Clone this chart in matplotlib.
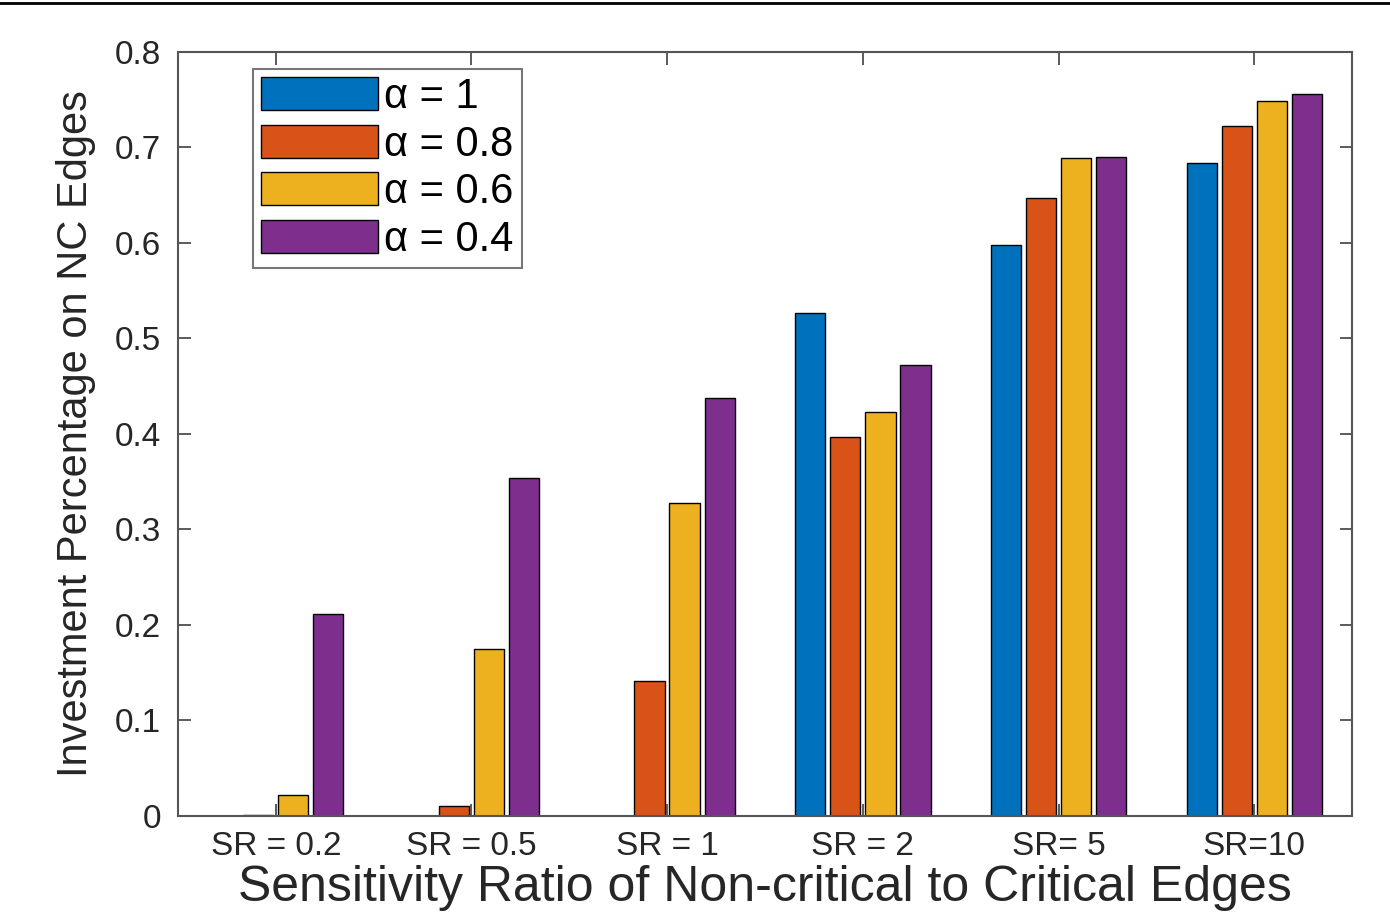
import numpy as np
import matplotlib.pyplot as plt
from matplotlib.lines import Line2D

plt.rcParams['font.family'] = ['Liberation Sans', 'DejaVu Sans']

groups = ["SR = 0.2", "SR = 0.5", "SR = 1", "SR = 2", "SR= 5", "SR=10"]
series = ["α = 1", "α = 0.8", "α = 0.6", "α = 0.4"]
alpha_1 = [0.0, 0.0, 0.0, 0.527, 0.598, 0.684]
alpha_08 = [0.001, 0.010, 0.141, 0.397, 0.647, 0.722]
alpha_06 = [0.022, 0.175, 0.328, 0.423, 0.689, 0.749]
alpha_04 = [0.212, 0.354, 0.438, 0.472, 0.690, 0.756]
colors = ["#0072BD", "#D95319", "#EDB120", "#7E2F8E"]

values = [alpha_1, alpha_08, alpha_06, alpha_04]

fig = plt.figure(figsize=(13.9, 9.15), dpi=100)
ax = fig.add_axes([0.128, 0.1082, 0.8447, 0.835])

x = np.arange(1, len(groups) + 1)
pitch = 0.179
width = 0.155
for i, (vals, lab, c) in enumerate(zip(values, series, colors)):
    ax.bar(x + (i - 1.5) * pitch, vals, width, color=c, edgecolor="black",
           linewidth=1.0, label=lab)

ax.set_xlim(0.5, 6.5)
ax.set_ylim(0, 0.8)
ax.set_xticks(x)
ax.set_xticklabels(groups)
ax.set_yticks(np.arange(0, 0.81, 0.1))
ax.set_yticklabels(["0", "0.1", "0.2", "0.3", "0.4", "0.5", "0.6", "0.7", "0.8"])
ax.tick_params(direction="in", top=True, right=True, length=9, width=1.2,
               colors="#404040", labelcolor="#262626", labelsize=24)
ax.tick_params(axis="x", pad=11)
ax.tick_params(axis="y", pad=12)
for s in ax.spines.values():
    s.set_color("#555555")
    s.set_linewidth(1.5)

ax.set_ylabel("Investment Percentage on NC Edges", fontsize=30, color="#262626", labelpad=14)
ax.set_xlabel("Sensitivity Ratio of Non-critical to Critical Edges", fontsize=36,
              color="#262626", labelpad=2)

leg = ax.legend(loc="upper left", bbox_to_anchor=(0.064, 0.978), fontsize=30,
                handlelength=2.8, handleheight=0.85, handletextpad=0.15,
                labelspacing=0.18, borderpad=0.2, borderaxespad=0, frameon=True,
                fancybox=False)
leg.get_frame().set_edgecolor("#555555")
leg.get_frame().set_linewidth(1.5)

fig.add_artist(Line2D([0, 1], [0.9967, 0.9967], color="black", linewidth=2,
                      transform=fig.transFigure))

fig.savefig("out.png", dpi=100)
